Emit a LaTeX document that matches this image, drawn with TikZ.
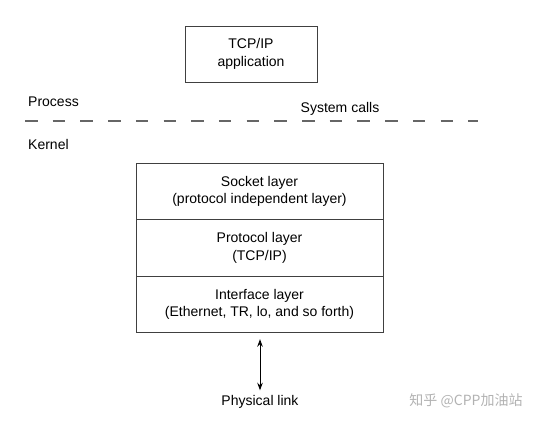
\documentclass[tikz,border=0pt]{standalone}
\usepackage{fontspec}
\setmainfont{Liberation Sans}
\newfontfamily\cjkfont{Noto Sans CJK SC}
\usetikzlibrary{positioning,arrows.meta}

\begin{document}
\begin{tikzpicture}[
  x=1pt, y=-1pt,
  font=\fontsize{14}{17.5}\selectfont,
  box/.style={draw=black!75, line width=0.9pt, align=center, inner sep=0pt},
  layer/.style={box, minimum width=247pt, minimum height=56.5pt},
  lbl/.style={anchor=west, inner sep=0pt},
  node distance=-0.9pt,
]
\useasboundingbox (0,0) rectangle (540,420);
\node[box, minimum width=132pt, minimum height=56pt] (app) at (251,54) {TCP/IP\\application};

\node[lbl] (process) at (28,102) {Process};
\node[inner sep=0pt] (syscalls) at (340,109) {System calls};
\node[lbl] (kernel) at (28,144) {Kernel};
\coordinate (dashL) at (25,121);
\coordinate (dashR) at (478,121);
\draw[black!60, line width=1.4pt, dash pattern=on 12.5pt off 15.2pt] (dashL) -- (dashR);

\node[layer] (socket) at (259.5,191.5) {Socket layer\\(protocol independent layer)};
\node[layer, below=of socket] (proto) {Protocol layer\\(TCP/IP)};
\node[layer, below=of proto] (iface) {Interface layer\\(Ethernet, TR, lo, and so forth)};

\node[inner sep=0pt] (phys) at (260,402) {Physical link};
\draw[{Stealth[length=7.5pt,width=5.5pt]}-{Stealth[length=7.5pt,width=5.5pt]}, line width=0.9pt]
  ([yshift=-6pt]iface.south -| phys) -- ([yshift=5pt]phys.north);

\node[inner sep=0pt, black!30] (mark) at (466,401) {\cjkfont 知乎\ @CPP加油站};
\end{tikzpicture}
\end{document}
